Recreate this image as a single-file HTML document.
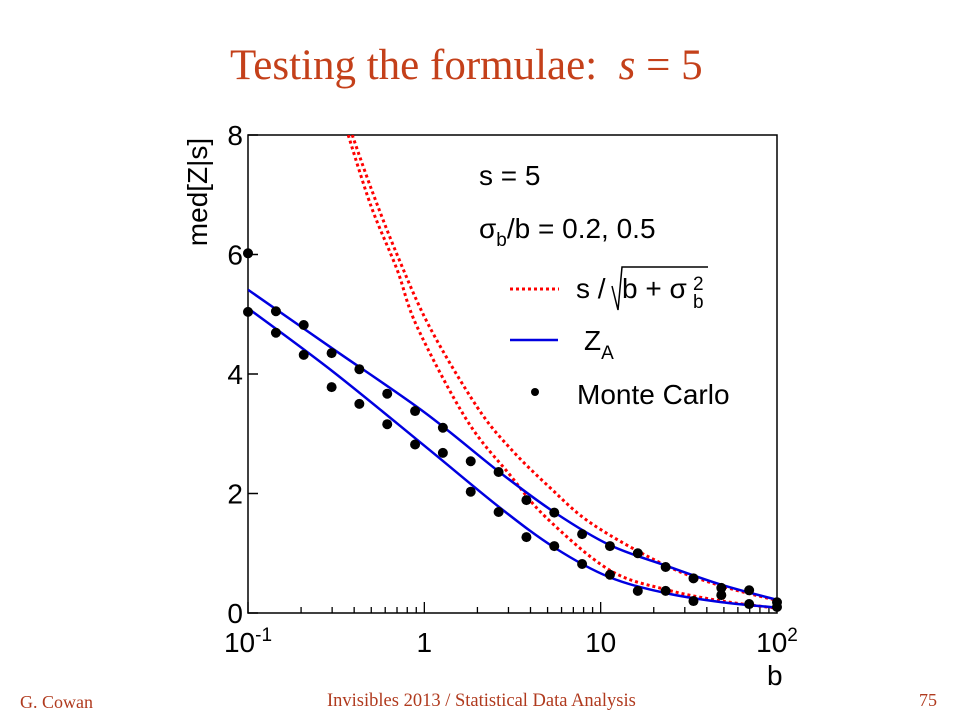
<!DOCTYPE html>
<html><head><meta charset="utf-8"><style>
body{margin:0;background:#fff;}
svg text{font-family:"Liberation Sans",Arial,sans-serif;}
</style></head><body>
<svg width="960" height="720" viewBox="0 0 960 720" xmlns="http://www.w3.org/2000/svg">
<text x="230" y="79" style="font-family:'Liberation Serif',serif" font-size="43" fill="#C4401A">Testing the formulae:&#160; <tspan font-style="italic">s</tspan> = 5</text>
<g id="plot"></g>
<text x="20" y="708" style="font-family:'Liberation Serif',serif" font-size="18" fill="#B03A1E">G. Cowan</text>
<text x="327" y="706" style="font-family:'Liberation Serif',serif" font-size="18.5" fill="#B03A1E">Invisibles 2013 / Statistical Data Analysis</text>
<text x="919" y="706" style="font-family:'Liberation Serif',serif" font-size="18" fill="#B03A1E">75</text>
</svg>
<script>
const mcB=[0.1,0.144,0.207,0.298,0.428,0.616,0.886,1.274,1.833,2.637,3.793,5.456,7.848,11.29,16.24,23.36,33.6,48.33,69.52,100];
const mcUpper=[6.02,5.05,4.82,4.35,4.08,3.67,3.38,3.10,2.54,2.36,1.89,1.68,1.32,1.12,1.00,0.77,0.58,0.42,0.38,0.18];
const mcLower=[5.04,4.69,4.32,3.78,3.50,3.16,2.82,2.68,2.03,1.69,1.27,1.12,0.82,0.64,0.37,0.37,0.20,0.30,0.15,0.10];
const zaB=[0.1,0.3,1,2.69,5.5,11.2,23.6,48.8,100];
const zaUpper=[5.41,4.43,3.36,2.35,1.68,1.14,0.79,0.47,0.22];
const zaLower=[5.10,4.05,2.80,1.76,1.09,0.60,0.33,0.18,0.09];
const redUpperB=[0.39,0.5,0.7,1.07,1.99,3.04,5.15,9.05,23.6,48.8,100];
const redUpper=[8.0,7.1,6.0,4.79,3.45,2.77,2.10,1.48,0.79,0.45,0.21];
const redLowerB=[0.37,0.5,0.7,0.91,1.74,3.04,4.9,11.2,23.6,48.8,100];
const redLower=[8.0,6.8,5.75,4.79,3.23,2.32,1.6,0.72,0.39,0.20,0.08];
const yTicks=[0,2,4,6,8];

const L=248,R=777,T=135,B=613;
const X=b=>L+(Math.log10(b)+1)/3*(R-L);
const Y=v=>B-v/8*(B-T);
const NS='http://www.w3.org/2000/svg';
const g=document.getElementById('plot');
function mk(tag,at,parent){const e=document.createElementNS(NS,tag);for(const k in at)e.setAttribute(k,at[k]);(parent||g).appendChild(e);return e;}
function smooth(xs,ys){const p=xs.map((b,i)=>[X(b),Y(ys[i])]);let d='M'+p[0][0]+','+p[0][1];
for(let i=0;i<p.length-1;i++){const p0=p[i-1]||p[i],p1=p[i],p2=p[i+1],p3=p[i+2]||p2;
d+=` C${p1[0]+(p2[0]-p0[0])/6},${p1[1]+(p2[1]-p0[1])/6} ${p2[0]-(p3[0]-p1[0])/6},${p2[1]-(p3[1]-p1[1])/6} ${p2[0]},${p2[1]}`;}return d;}
const cp=mk('clipPath',{id:'cp'});
mk('rect',{x:L,y:T,width:R-L,height:B-T},cp);
const fr=mk('rect',{x:L,y:T,width:R-L,height:B-T,fill:'none',stroke:'#000','stroke-width':1.5});


yTicks.forEach(v=>{
 const t=mk('line',{x1:L,x2:L+10,y1:Y(v),y2:Y(v),stroke:'#000','stroke-width':1.5});
 
 
 const tx=mk('text',{x:L-5,y:Y(v)+10,'text-anchor':'end','font-size':28});tx.textContent=v;
 
 
});
for(let d=-1;d<2;d++)for(let m=1;m<10;m++){const b=m*Math.pow(10,d);const len=m==1?11:6;
 const t=mk('line',{x1:X(b),x2:X(b),y1:B,y2:B-len,stroke:'#000','stroke-width':1.3});
 
 }
const xl=[['10','-1',0.1],['1','',1],['10','',10],['10','2',100]];
xl.forEach(a=>{const tx=mk('text',{x:X(a[2]),y:652,'text-anchor':'middle','font-size':28});tx.textContent=a[0];
 if(a[1]){const s=mk('tspan',{dy:-11,'font-size':19},tx);s.textContent=a[1];}
 
 });
const xt=mk('text',{x:767,y:685,'font-size':28});xt.textContent='b';


const yt=mk('text',{x:0,y:0,'font-size':28,'text-anchor':'middle',transform:'translate(207,192) rotate(-90)'});yt.textContent='med[Z|s]';


[[redUpperB,redUpper,'red-curve-0.2'],[redLowerB,redLower,'red-curve-0.5']].forEach(s=>{const p=mk('path',{d:smooth(s[0],s[1]),fill:'none',stroke:'#f00','stroke-width':3,'stroke-dasharray':'3,3','clip-path':'url(#cp)'});
 
 });
[[zaUpper,'za-curve-0.2'],[zaLower,'za-curve-0.5']].forEach(s=>{const p=mk('path',{d:smooth(zaB,s[0]),fill:'none',stroke:'#0000e0','stroke-width':2.5,'clip-path':'url(#cp)'});
 
 });
[mcUpper,mcLower].forEach(s=>s.forEach((v,i)=>{const c=mk('circle',{cx:X(mcB[i]),cy:Y(v),r:5,fill:'#000'});
 
 }));
const lg=mk('g',{});


function txt(x,y,s,fs){const t=mk('text',{x:x,y:y,'font-size':fs||28},lg);t.innerHTML=s;return t;}
txt(479,185,'s = 5');
txt(479,238,'σ<tspan dy="8" font-size="19">b</tspan><tspan dy="-8">/b = 0.2, 0.5</tspan>');
mk('line',{x1:510,x2:559,y1:289,y2:289,stroke:'#f00','stroke-width':3,'stroke-dasharray':'3,3'},lg);
txt(576,298,'s /');
mk('path',{d:'M612,286 L618,310 L622,267 L708,267',fill:'none',stroke:'#000','stroke-width':1.5},lg);
txt(622,298,'b + σ');
txt(693,290,'2',19);txt(693,308,'b',19);
mk('line',{x1:510,x2:558,y1:340,y2:340,stroke:'#0000e0','stroke-width':2.5},lg);
txt(584,350,'Z<tspan dy="9" font-size="19">A</tspan>');
mk('circle',{cx:535,cy:392,r:4,fill:'#000'},lg);
txt(577,404,'Monte Carlo');
</script>
</body></html>
